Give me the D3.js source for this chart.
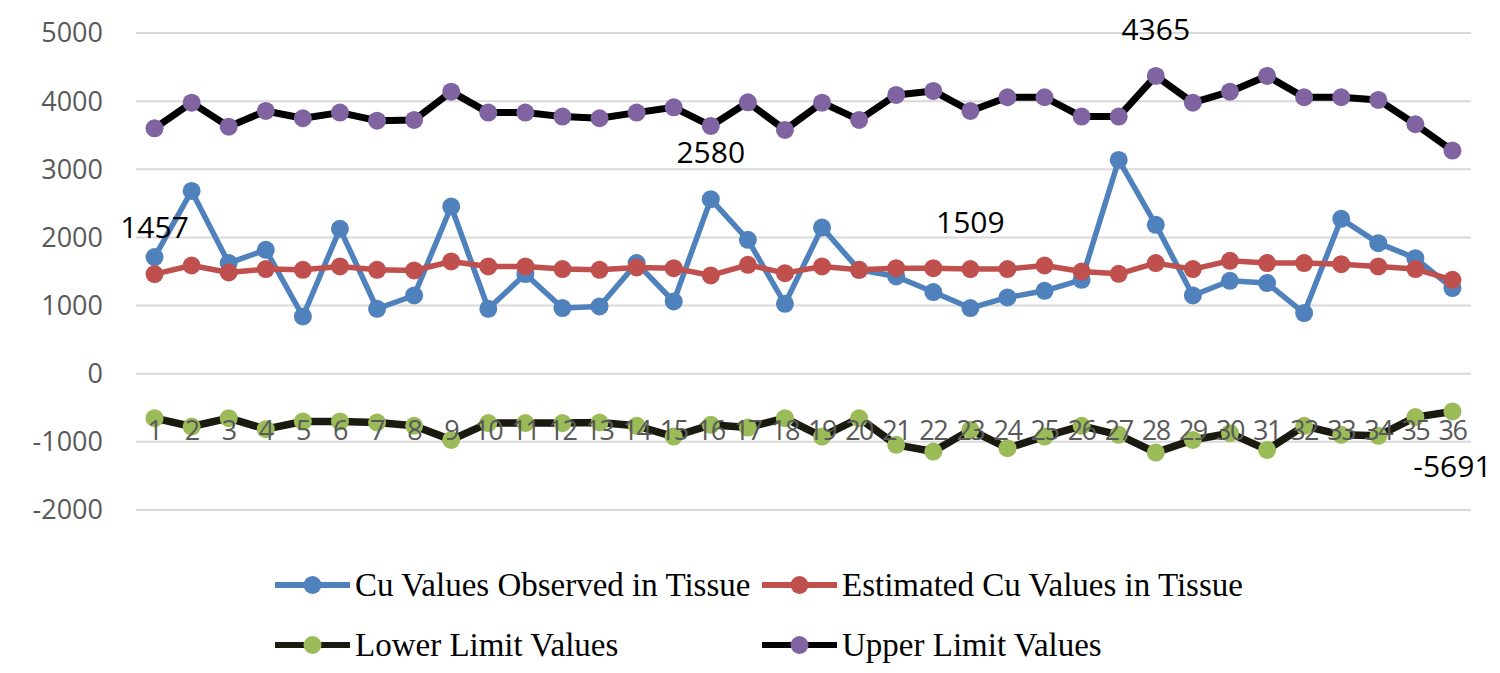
<!DOCTYPE html>
<html>
<head>
<meta charset="utf-8">
<title>Cu values in tissue</title>
<script src="https://d3js.org/d3.v7.min.js"></script>
<style>
  body { margin: 0; background: #fff; }
  .ytick { font-family: "Open Sans", sans-serif; font-size: 27px; fill: #595959; }
  .xtick { font-family: "Open Sans", sans-serif; font-size: 27px; fill: #595959; letter-spacing: -1.5px; }
  .dlabel { font-family: "Open Sans", sans-serif; font-size: 30px; fill: #000; }
  .legend text { font-family: "Liberation Serif", "Times New Roman", serif; font-size: 33px; fill: #000; }
</style>
</head>
<body>
<svg></svg>
<script>
// categories 1..36
const samples = ["1","2","3","4","5","6","7","8","9","10","11","12","13","14","15","16","17","18",
  "19","20","21","22","23","24","25","26","27","28","29","30","31","32","33","34","35","36"]

const observed = [1711,2683,1623,1818,840,2126,953,1148,2453,953,1462,963,987,1623,1060,2561,1965,1026,
  2145,1525,1427,1198,963,1119,1217,1378,3138,2185,1148,1364,1330,890,2273,1916,1696,1257]

const estimated = [1462,1588,1486,1535,1525,1574,1525,1515,1647,1574,1574,1535,1525,1559,1549,1442,1598,1476,
  1574,1525,1549,1549,1535,1535,1588,1500,1466,1623,1535,1657,1623,1623,1608,1574,1535,1378]

const lower = [-652,-775,-652,-814,-701,-701,-716,-765,-971,-725,-725,-725,-716,-765,-922,-750,-790,-652,
  -922,-652,-1044,-1142,-824,-1093,-922,-765,-897,-1157,-971,-873,-1118,-765,-897,-912,-637,-554]

const upper = [3602,3978,3626,3856,3749,3832,3714,3724,4139,3832,3832,3773,3749,3832,3910,3636,3983,3578,
  3978,3724,4091,4150,3856,4057,4057,3773,3773,4370,3978,4139,4370,4057,4057,4018,3661,3275]

const yTicks = [5000,4000,3000,2000,1000,0,-1000,-2000]

// data labels as printed on the chart
const labelSeries = ["estimated","observed","estimated","upper","lower"]
const labelIndex = [0,15,22,27,35]
const labelText = ["1457","2580","1509","4365","-5691"]
const labelSide = ["above","above","above","above","below"]

const series = [
  {key: "observed", name: "Cu Values Observed in Tissue", values: observed, line: "#4F81BD", marker: "#4F81BD", width: 5.5},
  {key: "estimated", name: "Estimated Cu Values in Tissue", values: estimated, line: "#C0504D", marker: "#C0504D", width: 5.5},
  {key: "lower", name: "Lower Limit Values", values: lower, line: "#1a1a10", marker: "#9BBB59", width: 7.5},
  {key: "upper", name: "Upper Limit Values", values: upper, line: "#000000", marker: "#8064A2", width: 7}
]

const width = 1500, height = 673
const svg = d3.select("svg").attr("width", width).attr("height", height)

const x = d3.scaleBand().domain(samples).range([136, 1471])
const cx = d => x(d) + x.bandwidth() / 2
const y = d3.scaleLinear().domain([-2000, 5000]).range([510, 33])

// gridlines
svg.append("g")
  .selectAll("line")
  .data(yTicks)
  .enter()
  .append("line")
  .attr("x1", 136).attr("x2", 1471)
  .attr("y1", d => y(d)).attr("y2", d => y(d))
  .attr("stroke", "#d9d9d9").attr("stroke-width", 2)

// y tick labels
svg.append("g")
  .selectAll("text")
  .data(yTicks)
  .enter()
  .append("text")
  .attr("class", "ytick")
  .attr("x", 103)
  .attr("y", d => y(d))
  .attr("dy", "0.35em")
  .attr("text-anchor", "end")
  .text(d => d)

// series
const line = d3.line().x((d, i) => cx(samples[i])).y(d => y(d))

series.forEach(s => {
  const g = svg.append("g")
  g.append("path")
    .datum(s.values)
    .attr("d", line)
    .attr("fill", "none")
    .attr("stroke", s.line)
    .attr("stroke-width", s.width)
    .attr("stroke-linejoin", "round")
  g.selectAll("circle")
    .data(s.values)
    .enter()
    .append("circle")
    .attr("cx", (d, i) => cx(samples[i]))
    .attr("cy", d => y(d))
    .attr("r", 9)
    .attr("fill", s.marker)
})

// x tick labels (drawn over the series, baseline on the -1000 line)
svg.append("g")
  .selectAll("text")
  .data(samples)
  .enter()
  .append("text")
  .attr("class", "xtick")
  .attr("x", d => cx(d))
  .attr("y", 440)
  .attr("text-anchor", "middle")
  .text(d => d)

// data labels
const byKey = {}
series.forEach(s => byKey[s.key] = s.values)
svg.append("g")
  .selectAll("text")
  .data(labelText)
  .enter()
  .append("text")
  .attr("class", "dlabel")
  .attr("text-anchor", "middle")
  .attr("x", (d, i) => cx(samples[labelIndex[i]]))
  .attr("y", (d, i) => y(byKey[labelSeries[i]][labelIndex[i]]) + (labelSide[i] == "above" ? -36 : 66))
  .text(d => d)

// legend
const legend = svg.append("g").attr("class", "legend")
const legX = [275, 762], legY = [585, 645]
series.forEach((s, i) => {
  const lx = legX[i % 2], ly = legY[Math.floor(i / 2)]
  legend.append("line")
    .attr("x1", lx).attr("x2", lx + 75)
    .attr("y1", ly).attr("y2", ly)
    .attr("stroke", s.line).attr("stroke-width", 6)
  legend.append("circle")
    .attr("cx", lx + 37.5).attr("cy", ly).attr("r", 9)
    .attr("fill", s.marker)
  legend.append("text")
    .attr("x", lx + 80).attr("y", ly)
    .attr("dy", "0.33em")
    .text(s.name)
})
</script>
</body>
</html>
